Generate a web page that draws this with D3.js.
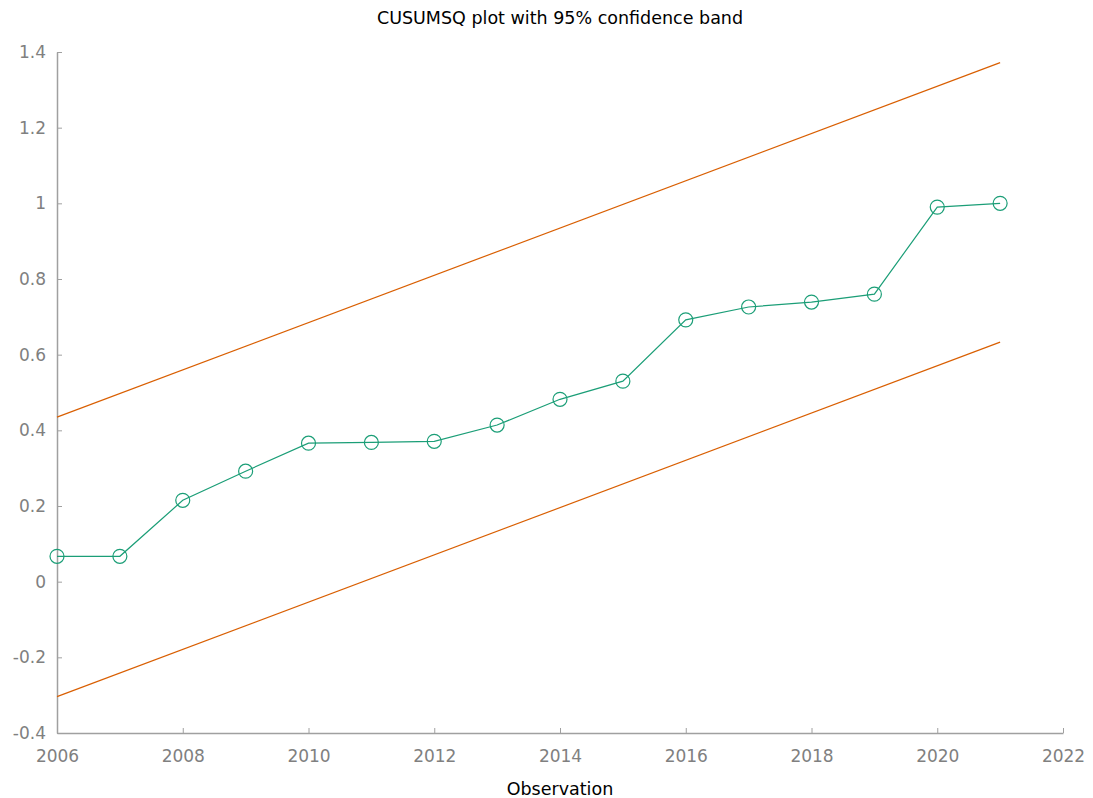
<!DOCTYPE html>
<html>
<head>
<meta charset="utf-8">
<script src="https://cdn.jsdelivr.net/npm/d3@7"></script>
<style>
  body { margin: 0; background: #fff; }
  text { font-family: "DejaVu Sans", Verdana, sans-serif; }
</style>
</head>
<body>
<div id="chart"></div>
<script>
// CUSUMSQ values per observation year
const years = [2006, 2007, 2008, 2009, 2010, 2011, 2012, 2013, 2014, 2015, 2016, 2017, 2018, 2019, 2020, 2021];
const cusumsq = [0.067, 0.067, 0.215, 0.292, 0.366, 0.368, 0.371, 0.414, 0.482, 0.530, 0.692, 0.726, 0.739, 0.760, 0.990, 1.0];

// 95% confidence band (straight lines, given at the end points)
const bandYears = [2006, 2021];
const upperBand = [0.435, 1.372];
const lowerBand = [-0.304, 0.633];

const xTicks = [2006, 2008, 2010, 2012, 2014, 2016, 2018, 2020, 2022];
const yTicks = [-0.4, -0.2, 0, 0.2, 0.4, 0.6, 0.8, 1, 1.2, 1.4];

const W = 1093, H = 798;
const margin = { top: 52, right: 30, bottom: 65, left: 57 };
const width = W - margin.left - margin.right;
const height = H - margin.top - margin.bottom;

const svg = d3.select("#chart").append("svg")
  .attr("width", W).attr("height", H);

const g = svg.append("g").attr("transform", `translate(${margin.left},${margin.top})`);

const x = d3.scaleLinear().domain([2006, 2022]).range([0, width]);
const y = d3.scaleLinear().domain([-0.4, 1.4]).range([height, 0]);

const axisColor = "#a0a0a0";
const labelColor = "#808080";
const fmtY = d => String(+d.toFixed(1)); // plain hyphen for negatives

// axes, ticks pointing inward
const xAxis = g.append("g").attr("transform", `translate(0,${height})`)
  .call(d3.axisBottom(x).tickValues(xTicks).tickFormat(d3.format("d")).tickSizeInner(-5).tickSizeOuter(0).tickPadding(17));
const yAxis = g.append("g")
  .call(d3.axisLeft(y).tickValues(yTicks).tickFormat(fmtY).tickSizeInner(-5).tickSizeOuter(0).tickPadding(11));

[xAxis, yAxis].forEach(a => {
  a.select(".domain").attr("stroke", axisColor).attr("stroke-width", 1.5);
  a.selectAll(".tick line").attr("stroke", axisColor).attr("stroke-width", 1);
  a.selectAll(".tick text").attr("fill", labelColor).style("font-size", "17px")
    .style("font-family", "'DejaVu Sans', Verdana, sans-serif");
});

// band lines
const line = d3.line().x(d => x(d[0])).y(d => y(d[1]));
[upperBand, lowerBand].forEach(b => {
  g.append("path")
    .datum(bandYears.map((yr, i) => [yr, b[i]]))
    .attr("fill", "none")
    .attr("stroke", "#d95f02")
    .attr("stroke-width", 1.2)
    .attr("d", line);
});

// CUSUMSQ series
const pts = years.map((yr, i) => [yr, cusumsq[i]]);
g.append("path")
  .datum(pts)
  .attr("fill", "none")
  .attr("stroke", "#1b9e77")
  .attr("stroke-width", 1.2)
  .attr("d", line);

g.selectAll(".pt").data(pts).enter().append("circle")
  .attr("class", "pt")
  .attr("cx", d => x(d[0]))
  .attr("cy", d => y(d[1]))
  .attr("r", 7)
  .attr("fill", "none")
  .attr("stroke", "#1b9e77")
  .attr("stroke-width", 1.2);

// title and axis label
svg.append("text")
  .attr("x", 560).attr("y", 24)
  .attr("text-anchor", "middle")
  .style("font-size", "17.5px")
  .attr("fill", "#000")
  .text("CUSUMSQ plot with 95% confidence band");

svg.append("text")
  .attr("x", 560).attr("y", 795)
  .attr("text-anchor", "middle")
  .style("font-size", "17.5px")
  .attr("fill", "#000")
  .text("Observation");
</script>
</body>
</html>
